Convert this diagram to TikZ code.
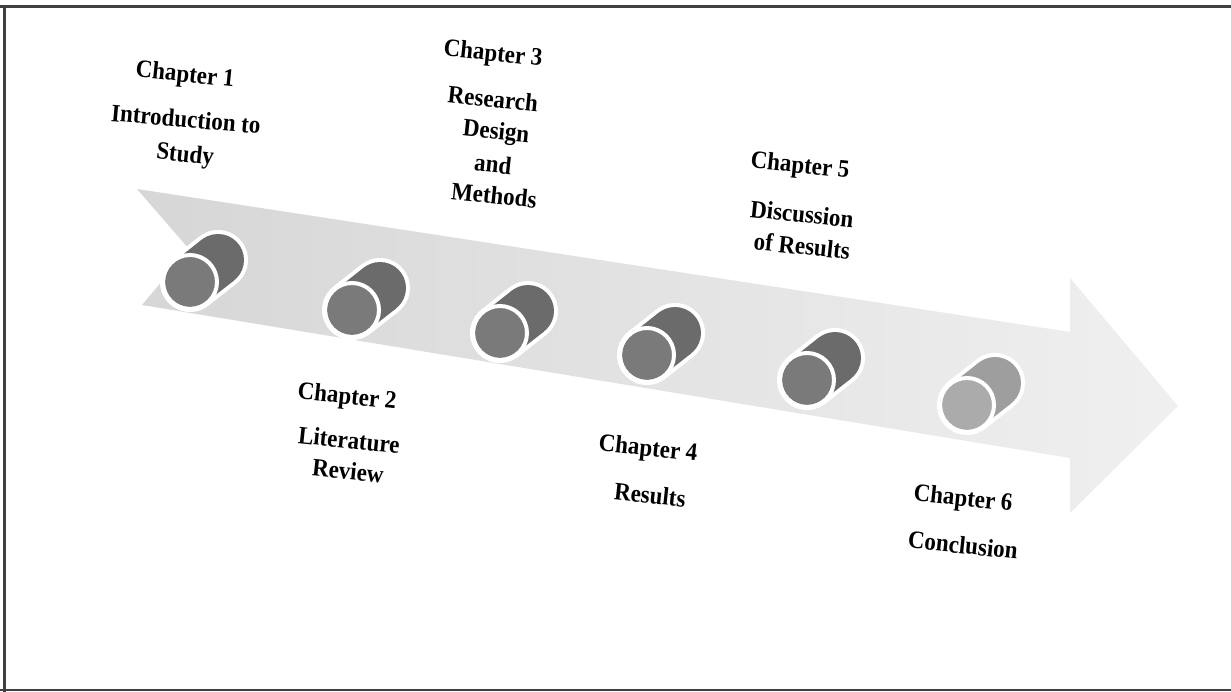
\documentclass[tikz,border=0pt]{standalone}
\usepackage{fontspec}
\setmainfont{Liberation Serif}
\begin{document}
\begin{tikzpicture}[x=1pt,y=-1pt,
  lbl/.style={font=\fontsize{25}{29}\selectfont\bfseries, rotate=-6, xscale=0.92, inner sep=0pt},
  frameline/.style={draw=black!75, line width=3pt},
  pics/cyl/.style 2 args={code={
    \fill[white] (0,0) circle (30);
    \fill[white] (28,-22) circle (30);
    \draw[white, line width=60pt] (0,0) -- (28,-22);
    \fill[#2] (28,-22) circle (26);
    \draw[#2, line width=52pt] (0,0) -- (28,-22);
    \fill[#1] (0,0) circle (25);
    \draw[white, line width=4pt] (0,0) circle (27);
  }}]
\useasboundingbox (0,0) rectangle (1231,692);
\fill[white] (0,0) rectangle (1231,692);
% frame
\draw[frameline] (0,7) -- (1231,7);
\draw[frameline] (4,7) -- (4,692);
\draw[frameline, line width=2pt] (0,690) -- (1231,690);
% arrow band
\shade[left color=black!16, right color=black!6]
  (137,189) -- (1070,332) -- (1070,278) -- (1178,406) -- (1070,513)
  -- (1070,458) -- (142,305) -- (189,249) -- cycle;
% cylinders
\pic at (190,282) {cyl={black!52}{black!58}};
\pic at (352,310) {cyl={black!52}{black!58}};
\pic at (500,333) {cyl={black!52}{black!58}};
\pic at (647,355) {cyl={black!52}{black!58}};
\pic at (807,380) {cyl={black!52}{black!58}};
\pic at (967,405) {cyl={black!33}{black!38}};
% labels
\node[lbl] (t1)  at (185,76)  {Chapter 1};
\node[lbl, rotate=1] (d1a) at (186,119) {Introduction to};
\node[lbl] (d1b) at (185,156) {Study};
\node[lbl] (t2)  at (347,398) {Chapter 2};
\node[lbl] (d2a) at (349,440) {Literature};
\node[lbl] (d2b) at (348,471) {Review};
\node[lbl] (t3)  at (493,55)  {Chapter 3};
\node[lbl] (d3a) at (493,99)  {Research};
\node[lbl] (d3b) at (496,133) {Design};
\node[lbl] (d3c) at (493,164) {and};
\node[lbl] (d3d) at (494,195) {Methods};
\node[lbl] (t4)  at (648,450) {Chapter 4};
\node[lbl] (d4)  at (650,495) {Results};
\node[lbl] (t5)  at (800,167) {Chapter 5};
\node[lbl] (d5a) at (802,214) {Discussion};
\node[lbl] (d5b) at (802,246) {of Results};
\node[lbl] (t6)  at (963,500) {Chapter 6};
\node[lbl] (d6)  at (963,545) {Conclusion};
\end{tikzpicture}
\end{document}
